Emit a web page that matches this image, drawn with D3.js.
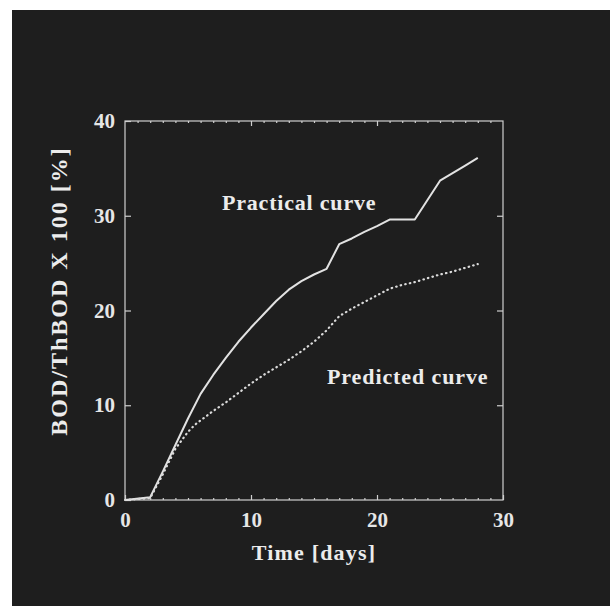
<!DOCTYPE html>
<meta charset="utf-8">
<style>
body { margin: 0; background: #fff; }
svg { display: block; }
.axis path, .axis line { stroke: #cfcfcf; stroke-width: 1.2px; }
.axis text { fill: #e6e6e6; font-family: "Liberation Serif", serif; font-weight: bold; font-size: 21px; }
.lbl { fill: #ececec; font-family: "Liberation Serif", serif; font-weight: bold; }
</style>
<svg width="610" height="608"></svg>
<script src="https://cdn.jsdelivr.net/npm/d3@7"></script>
<script>
// readings
var practicalDays = [0, 2, 3, 4, 5, 6, 7, 8, 9, 10, 11, 12, 13, 14, 15, 16, 17, 18, 19, 20, 21, 23, 25, 26, 27, 28];
var practicalVals = [0, 0.3, 3.0, 5.8, 8.6, 11.2, 13.2, 15.0, 16.7, 18.2, 19.6, 21.0, 22.2, 23.1, 23.8, 24.4, 27.0, 27.6, 28.3, 28.9, 29.6, 29.6, 33.7, 34.5, 35.3, 36.1];
var predictedDays = [0, 2, 3, 4, 5, 5.6, 7, 8, 9, 10, 11, 12, 13, 14, 15, 16, 17, 18, 19, 20, 21, 22, 23, 24, 25, 26, 27, 28];
var predictedVals = [0, 0.2, 2.7, 5.4, 7.2, 8.0, 9.4, 10.3, 11.3, 12.3, 13.2, 14.0, 14.8, 15.7, 16.7, 17.9, 19.4, 20.2, 20.9, 21.6, 22.3, 22.7, 23.0, 23.4, 23.8, 24.1, 24.5, 24.9];
var xTicks = [0, 10, 20, 30];
var yTicks = [0, 10, 20, 30, 40];

var svg = d3.select("svg");

// dark photo area with the white margin top/left
svg.append("rect")
    .attr("x", 12).attr("y", 10)
    .attr("width", 598).attr("height", 596)
    .attr("fill", "#1e1e1e");

var x = d3.scaleLinear().domain([0, 30]).range([125, 503]);
var y = d3.scaleLinear().domain([0, 40]).range([500, 121]);

// frame
svg.append("rect")
    .attr("x", x(0)).attr("y", y(40))
    .attr("width", x(30) - x(0)).attr("height", y(0) - y(40))
    .attr("fill", "none").attr("stroke", "#cfcfcf").attr("stroke-width", 1.2);

// minor ticks on bottom and top
var minor = d3.range(1, 30).filter(function(d) { return d % 10; });
svg.append("g").attr("class", "axis")
    .attr("transform", "translate(0," + y(0) + ")")
    .call(d3.axisBottom(x).tickValues(minor).tickSize(-2).tickFormat(""))
    .call(function(g) { g.select(".domain").remove(); });
svg.append("g").attr("class", "axis")
    .attr("transform", "translate(0," + y(40) + ")")
    .call(d3.axisTop(x).tickValues(minor).tickSize(-2).tickFormat(""))
    .call(function(g) { g.select(".domain").remove(); });

// major ticks
svg.append("g").attr("class", "axis")
    .attr("transform", "translate(0," + y(0) + ")")
    .call(d3.axisBottom(x).tickValues(xTicks).tickSize(-5).tickPadding(12).tickFormat(d3.format("d")))
    .call(function(g) { g.select(".domain").remove(); });
svg.append("g").attr("class", "axis")
    .attr("transform", "translate(0," + y(40) + ")")
    .call(d3.axisTop(x).tickValues([10, 20]).tickSize(-5).tickFormat(""))
    .call(function(g) { g.select(".domain").remove(); });
svg.append("g").attr("class", "axis")
    .attr("transform", "translate(" + x(0) + ",0)")
    .call(d3.axisLeft(y).tickValues(yTicks).tickSize(-6).tickPadding(10).tickFormat(d3.format("d")))
    .call(function(g) { g.select(".domain").remove(); });
svg.append("g").attr("class", "axis")
    .attr("transform", "translate(" + x(30) + ",0)")
    .call(d3.axisRight(y).tickValues([10, 20, 30]).tickSize(-6).tickFormat(""))
    .call(function(g) { g.select(".domain").remove(); });

var line = d3.line()
    .x(function(d) { return x(d[0]); })
    .y(function(d) { return y(d[1]); });

svg.append("path")
    .datum(d3.zip(practicalDays, practicalVals))
    .attr("fill", "none")
    .attr("stroke", "#e2e2e2")
    .attr("stroke-width", 2)
    .attr("stroke-linejoin", "round")
    .attr("d", line);

svg.append("path")
    .datum(d3.zip(predictedDays, predictedVals))
    .attr("fill", "none")
    .attr("stroke", "#dadada")
    .attr("stroke-width", 2.2)
    .attr("stroke-linecap", "round")
    .attr("stroke-dasharray", "0.5,4.2")
    .attr("d", line);

svg.append("text").attr("class", "lbl")
    .attr("x", 222).attr("y", 210)
    .attr("font-size", 22)
    .attr("letter-spacing", 0.8)
    .text("Practical curve");
svg.append("text").attr("class", "lbl")
    .attr("x", 327).attr("y", 384)
    .attr("font-size", 22)
    .attr("letter-spacing", 0.9)
    .text("Predicted curve");
svg.append("text").attr("class", "lbl")
    .attr("x", (x(0) + x(30)) / 2).attr("y", 560)
    .attr("text-anchor", "middle")
    .attr("font-size", 22)
    .attr("letter-spacing", 1.2)
    .text("Time [days]");
svg.append("text").attr("class", "lbl")
    .attr("transform", "translate(67,291) rotate(-90)")
    .attr("text-anchor", "middle")
    .attr("font-size", 24)
    .attr("letter-spacing", 2)
    .text("BOD/ThBOD X 100 [%]");
</script>
